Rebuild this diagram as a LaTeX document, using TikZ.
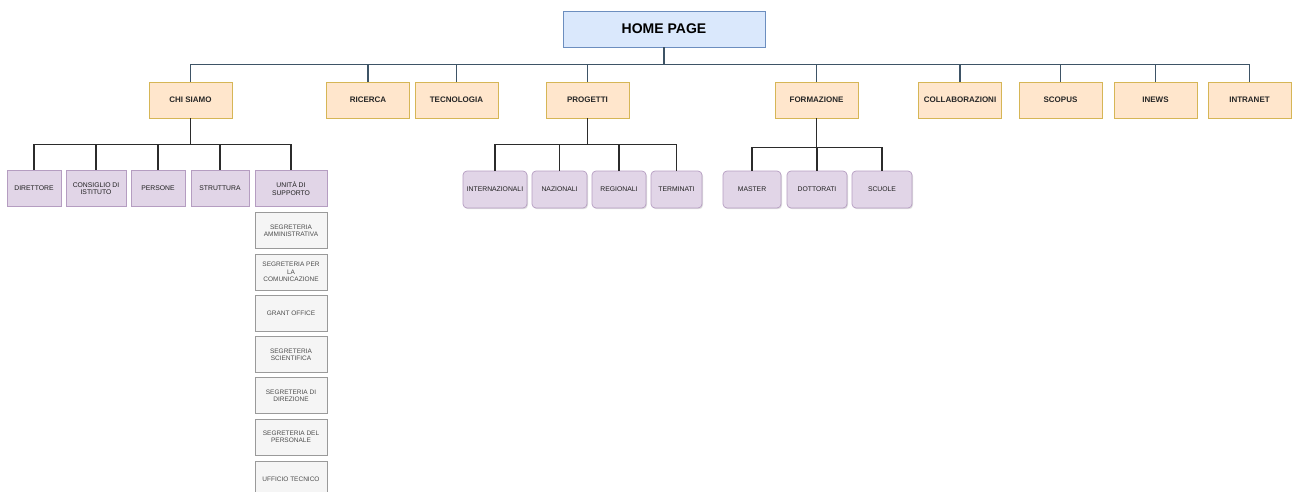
\documentclass[tikz,border=0pt]{standalone}
\usepackage{fontspec}
\setmainfont{Liberation Sans}
\usetikzlibrary{shadows}
\definecolor{hpfill}{HTML}{DAE8FC}\definecolor{hpdraw}{HTML}{6C8EBF}
\definecolor{orfill}{HTML}{FFE6CC}\definecolor{ordraw}{HTML}{D6B656}
\definecolor{pufill}{HTML}{E1D5E7}\definecolor{pudraw}{HTML}{9673A6}
\definecolor{grfill}{HTML}{F5F5F5}\definecolor{grdraw}{HTML}{9A9A9A}
\definecolor{busline}{HTML}{3E5466}\definecolor{subline}{HTML}{2B2B2B}
\tikzset{
  home/.style={draw=hpdraw, fill=hpfill, line width=0.8pt, minimum width=202pt, minimum height=36pt, inner sep=1pt, font=\fontsize{14}{16}\selectfont\bfseries},
  lvlone/.style={draw=ordraw, fill=orfill, line width=0.8pt, minimum width=83pt, minimum height=36pt, inner sep=1pt, font=\fontsize{8}{9}\selectfont\bfseries, text=black!85},
  sqbox/.style={draw=pudraw!70, fill=pufill, line width=0.7pt, minimum height=36pt, inner sep=1pt, align=center, font=\fontsize{6.8}{7.6}\selectfont, text=black!88},
  rdbox/.style={draw=pudraw!70, fill=pufill, line width=0.7pt, rounded corners=4pt, minimum height=37pt, inner sep=1pt, align=center, font=\fontsize{6.8}{7.6}\selectfont, text=black!88, drop shadow={opacity=0.25, shadow xshift=1pt, shadow yshift=-1.2pt}},
  grbox/.style={draw=grdraw, fill=grfill, line width=0.6pt, minimum width=72pt, minimum height=36pt, inner sep=1pt, align=center, font=\fontsize{6.5}{7.4}\selectfont, text=black!70},
  busl/.style={draw=busline, line width=1.4pt},
  subl/.style={draw=subline, line width=1.4pt},
}
\begin{document}
\begin{tikzpicture}[x=1pt,y=-1pt]
\useasboundingbox (0,0) rectangle (1292,492);
\begin{scope}
\clip (0,0) rectangle (1292,492);
% top
\node[home] (hp) at (664,29) {HOME PAGE};
% level one
\node[lvlone] (chi) at (190.5,100) {CHI SIAMO};
\node[lvlone] (ric) at (368,100) {RICERCA};
\node[lvlone] (tec) at (456.5,100) {TECNOLOGIA};
\node[lvlone] (pro) at (587.5,100) {PROGETTI};
\node[lvlone] (for) at (816.5,100) {FORMAZIONE};
\node[lvlone] (col) at (960,100) {COLLABORAZIONI};
\node[lvlone] (sco) at (1060.5,100) {SCOPUS};
\node[lvlone] (ine) at (1155.5,100) {INEWS};
\node[lvlone] (int) at (1249.5,100) {INTRANET};
% chi siamo children
\node[sqbox, minimum width=54pt] (dir) at (34,188.5) {DIRETTORE};
\node[sqbox, minimum width=60pt] (cons) at (96,188.5) {CONSIGLIO DI\\ISTITUTO};
\node[sqbox, minimum width=54pt] (pers) at (158,188.5) {PERSONE};
\node[sqbox, minimum width=58pt] (strut) at (220,188.5) {STRUTTURA};
\node[sqbox, minimum width=72pt] (unita) at (291,188.5) {UNITÀ DI\\SUPPORTO};
% unita di supporto list
\node[grbox] (g1) at (291,230.5) {SEGRETERIA\\AMMINISTRATIVA};
\node[grbox] (g2) at (291,272) {SEGRETERIA PER\\LA\\COMUNICAZIONE};
\node[grbox] (g3) at (291,313.5) {GRANT OFFICE};
\node[grbox] (g4) at (291,354.5) {SEGRETERIA\\SCIENTIFICA};
\node[grbox] (g5) at (291,395.5) {SEGRETERIA DI\\DIREZIONE};
\node[grbox] (g6) at (291,437) {SEGRETERIA DEL\\PERSONALE};
\node[grbox] (g7) at (291,479) {UFFICIO TECNICO};
% progetti children
\node[rdbox, minimum width=64pt] (intz) at (495,189.5) {INTERNAZIONALI};
\node[rdbox, minimum width=55pt] (naz) at (559.5,189.5) {NAZIONALI};
\node[rdbox, minimum width=54pt] (reg) at (619,189.5) {REGIONALI};
\node[rdbox, minimum width=51pt] (ter) at (676.5,189.5) {TERMINATI};
% formazione children
\node[rdbox, minimum width=58pt] (mas) at (752,189.5) {MASTER};
\node[rdbox, minimum width=60pt] (dot) at (817,189.5) {DOTTORATI};
\node[rdbox, minimum width=60pt] (scu) at (882,189.5) {SCUOLE};
\end{scope}
% connectors home -> level one
\foreach \c in {chi,ric,tec,pro,for,col,sco,ine,int}
  \draw[busl] (hp.south) -- ++(0,17) -| (\c.north);
% chi siamo -> children
\foreach \c in {dir,cons,pers,strut,unita}
  \draw[subl] (chi.south) -- ++(0,26) -| (\c.north);
% progetti -> children
\foreach \c in {intz,naz,reg,ter}
  \draw[subl] (pro.south) -- ++(0,26) -| (\c.north);
% formazione -> children
\foreach \c in {mas,dot,scu}
  \draw[subl] (for.south) -- ++(0,29) -| (\c.north);
\end{tikzpicture}
\end{document}
